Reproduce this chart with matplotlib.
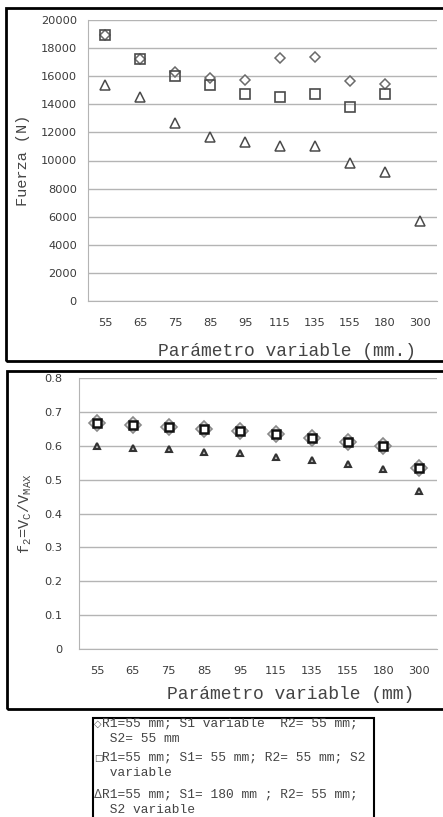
import matplotlib
matplotlib.use('Agg')
import matplotlib.pyplot as plt
from matplotlib.patches import Rectangle

# datos
categorias = ['55', '65', '75', '85', '95', '115', '135', '155', '180', '300']

# fuerza (N)
fuerza_s1 = [18900, 17200, 16300, 15900, 15750, 17300, 17350, 15650, 15450, None]
fuerza_s2 = [18900, 17200, 16000, 15400, 14700, 14500, 14700, 13800, 14700, None]
fuerza_s3 = [15400, 14500, 12700, 11700, 11300, 11000, 11050, 9850, 9150, 5700]

# f2 = Vc / Vmax
f2_s1 = [0.666, 0.661, 0.656, 0.650, 0.644, 0.634, 0.622, 0.612, 0.600, 0.535]
f2_s2 = [0.666, 0.661, 0.656, 0.650, 0.644, 0.634, 0.622, 0.612, 0.600, 0.535]
f2_s3 = [0.599, 0.594, 0.590, 0.582, 0.578, 0.567, 0.557, 0.546, 0.531, 0.466]

simbolos = ['\u25c7', '\u25a1', '\u0394']
etiquetas = [['R1=55 mm; S1 variable  R2= 55 mm;', ' S2= 55 mm'],
             ['R1=55 mm; S1= 55 mm; R2= 55 mm; S2', ' variable'],
             ['R1=55 mm; S1= 180 mm ; R2= 55 mm;', ' S2 variable']]

W, H = 443, 817
fig = plt.figure(figsize=(W / 100, H / 100), dpi=100)

mono = 'Liberation Mono'
gris = '#b4b4b4'
plt.rcParams['mathtext.fontset'] = 'custom'
plt.rcParams['mathtext.rm'] = mono
plt.rcParams['mathtext.it'] = mono


def estilo(ax, ymax, ystep, fmt, ypad):
    ax.set_xlim(-0.5, len(categorias) - 0.5)
    ax.set_ylim(0, ymax)
    ax.set_xticks(range(len(categorias)))
    ax.set_xticklabels(categorias)
    yt = [i * ystep for i in range(int(round(ymax / ystep)) + 1)]
    ax.set_yticks(yt)
    ax.set_yticklabels([fmt(v) for v in yt])
    ax.grid(axis='y', color=gris, linewidth=1.0)
    ax.set_axisbelow(True)
    for s in ['top', 'right']:
        ax.spines[s].set_visible(False)
    ax.spines['left'].set_color(gris)
    ax.spines['bottom'].set_color(gris)
    ax.tick_params(length=0, labelsize=8.2, labelcolor='#3a3a3a')
    ax.tick_params(axis='y', pad=ypad)
    ax.tick_params(axis='x', pad=12)


def serie(y):
    xs = [i for i, v in enumerate(y) if v is not None]
    ys = [v for v in y if v is not None]
    return xs, ys


# ---- grafico 1: Fuerza ----
ax1 = fig.add_axes([88 / W, 1 - 301 / H, 349 / W, 281 / H])
x, y = serie(fuerza_s1)
ax1.plot(x, y, 'D', ms=5.5, mfc='white', mec='#6a6a6a', mew=1.1, ls='none')
x, y = serie(fuerza_s2)
ax1.plot(x, y, 's', ms=6.5, mfc='none', mec='#4a4a4a', mew=1.2, ls='none')
x, y = serie(fuerza_s3)
ax1.plot(x, y, '^', ms=7, mfc='white', mec='#4a4a4a', mew=1.1, ls='none')
estilo(ax1, 20000, 2000, lambda v: '%d' % v, 8)
ax1.set_ylabel('Fuerza (N)', fontfamily=mono, fontsize=11, color='#444444')
ax1.yaxis.set_label_coords(-0.165, 0.5)
ax1.set_xlabel('Parámetro variable (mm.)', fontfamily=mono, fontsize=13, color='#444444')
ax1.xaxis.set_label_coords(0.57, -0.148)

# ---- grafico 2: f2 ----
ax2 = fig.add_axes([79 / W, 1 - 649 / H, 358 / W, 271 / H])
ax2.plot(range(len(f2_s1)), f2_s1, 'D', ms=8, mfc='#e6e6e6', mec='#8a8a8a', mew=1.2, ls='none')
ax2.plot(range(len(f2_s2)), f2_s2, 's', ms=5.5, mfc='white', mec='#111111', mew=1.8, ls='none')
ax2.plot(range(len(f2_s3)), f2_s3, '^', ms=5, mfc='#bdbdbd', mec='#333333', mew=1.5, ls='none')
estilo(ax2, 0.8, 0.1, lambda v: '0' if v == 0 else '%.1f' % v, 12)
ax2.set_ylabel(r'f$_\mathrm{2}$=V$_\mathrm{C}$/V$_\mathrm{MAX}$', fontfamily=mono, fontsize=11, color='#444444')
ax2.yaxis.set_label_coords(-0.125, 0.5)
ax2.set_xlabel('Parámetro variable (mm)', fontfamily=mono, fontsize=13, color='#444444')
ax2.xaxis.set_label_coords(0.59, -0.135)

# marcos negros de cada panel
fig.patches.append(Rectangle((6 / W, 1 - 361 / H), 460 / W, 353 / H, transform=fig.transFigure,
                             fill=False, edgecolor='black', linewidth=2, clip_on=False))
fig.patches.append(Rectangle((7 / W, 1 - 709 / H), 460 / W, 338 / H, transform=fig.transFigure,
                             fill=False, edgecolor='black', linewidth=2, clip_on=False))

# leyenda (caja con texto)
fig.patches.append(Rectangle((93 / W, -0.02), 281 / W, 0.02 + 1 - 718 / H, transform=fig.transFigure,
                             fill=False, edgecolor='black', linewidth=1.5, clip_on=False))
y0 = [724, 758, 795]
tam_simb = [7, 6.5, 8.5]
for i in range(3):
    fig.text(94 / W, 1 - y0[i] / H, simbolos[i], family=['DejaVu Sans'], fontsize=tam_simb[i],
             color='#555555', va='center', ha='left')
    fig.text(102 / W, 1 - y0[i] / H, etiquetas[i][0], family=[mono, 'DejaVu Sans'], fontsize=9.3,
             color='#444444', va='center', ha='left')
    fig.text(102 / W, 1 - (y0[i] + 15) / H, etiquetas[i][1], family=[mono, 'DejaVu Sans'], fontsize=9.3,
             color='#444444', va='center', ha='left')

fig.savefig('out.png', dpi=100)
